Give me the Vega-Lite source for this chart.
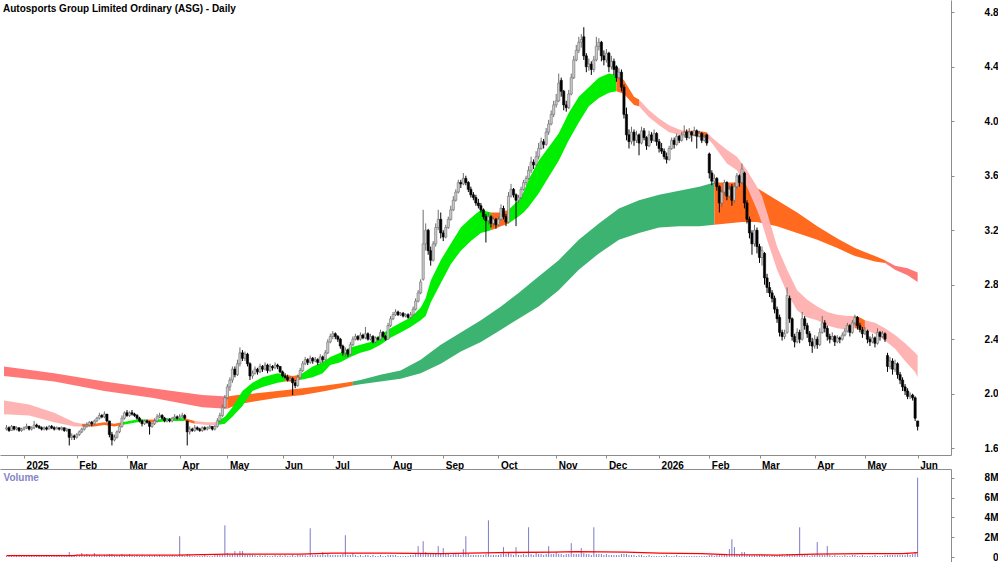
{
"$schema":"https://vega.github.io/schema/vega-lite/v6.json",
"padding":0,
"width":951,"height":562,
"title":{"text":"Autosports Group Limited Ordinary (ASG) - Daily","anchor":"start","offset":-14,"fontSize":10,"fontWeight":"bold","font":"Liberation Sans","color":"#000","dx":3},
"config":{"view":{"stroke":null},"font":"Liberation Sans","axis":{"grid":false,"labelFont":"Liberation Sans","labelFontWeight":"bold","labelFontSize":10,"labelColor":"#000","domainColor":"#8c8c8c","tickColor":"#8c8c8c"}},
"datasets":{
"px":[
{"i":-7,"o":1.74,"h":1.77,"l":1.73,"c":1.75,"v":0.1},{"i":-6,"o":1.75,"h":1.76,"l":1.72,"c":1.73,"v":0.1},{"i":-5,"o":1.73,"h":1.77,"l":1.73,"c":1.76,"v":0.2},{"i":-4,"o":1.76,"h":1.76,"l":1.73,"c":1.74,"v":0.1},{"i":-3,"o":1.74,"h":1.76,"l":1.73,"c":1.75,"v":0.1},{"i":-2,"o":1.75,"h":1.75,"l":1.72,"c":1.73,"v":0.1},{"i":-1,"o":1.73,"h":1.75,"l":1.72,"c":1.74,"v":0.1},
{"i":0,"o":1.74,"h":1.76,"l":1.73,"c":1.75,"v":0.2},{"i":1,"o":1.75,"h":1.78,"l":1.74,"c":1.76,"v":0.1},{"i":2,"o":1.76,"h":1.76,"l":1.73,"c":1.74,"v":0.1},{"i":3,"o":1.74,"h":1.76,"l":1.73,"c":1.75,"v":0.2},{"i":4,"o":1.75,"h":1.80,"l":1.74,"c":1.77,"v":0.2},{"i":5,"o":1.77,"h":1.78,"l":1.75,"c":1.76,"v":0.1},{"i":6,"o":1.76,"h":1.77,"l":1.74,"c":1.75,"v":0.1},{"i":7,"o":1.75,"h":1.76,"l":1.73,"c":1.74,"v":0.1},{"i":8,"o":1.74,"h":1.76,"l":1.73,"c":1.75,"v":0.1},{"i":9,"o":1.75,"h":1.76,"l":1.73,"c":1.74,"v":0.2},
{"i":10,"o":1.74,"h":1.77,"l":1.74,"c":1.76,"v":0.1},{"i":11,"o":1.76,"h":1.77,"l":1.74,"c":1.75,"v":0.1},{"i":12,"o":1.75,"h":1.76,"l":1.73,"c":1.74,"v":0.1},{"i":13,"o":1.74,"h":1.76,"l":1.74,"c":1.75,"v":0.2},{"i":14,"o":1.75,"h":1.75,"l":1.73,"c":1.74,"v":0.1},{"i":15,"o":1.74,"h":1.76,"l":1.73,"c":1.75,"v":0.1},{"i":16,"o":1.75,"h":1.75,"l":1.72,"c":1.73,"v":0.1},{"i":17,"o":1.73,"h":1.75,"l":1.72,"c":1.74,"v":0.1},{"i":18,"o":1.74,"h":1.74,"l":1.62,"c":1.68,"v":0.5},{"i":19,"o":1.68,"h":1.71,"l":1.66,"c":1.69,"v":0.2},
{"i":20,"o":1.69,"h":1.70,"l":1.66,"c":1.68,"v":0.1},{"i":21,"o":1.68,"h":1.71,"l":1.67,"c":1.70,"v":0.2},{"i":22,"o":1.70,"h":1.73,"l":1.69,"c":1.72,"v":0.2},{"i":23,"o":1.72,"h":1.75,"l":1.71,"c":1.74,"v":0.4},{"i":24,"o":1.74,"h":1.77,"l":1.73,"c":1.76,"v":0.2},{"i":25,"o":1.76,"h":1.79,"l":1.75,"c":1.77,"v":0.3},{"i":26,"o":1.77,"h":1.80,"l":1.76,"c":1.79,"v":0.2},{"i":27,"o":1.79,"h":1.80,"l":1.76,"c":1.78,"v":0.1},{"i":28,"o":1.78,"h":1.81,"l":1.77,"c":1.80,"v":0.4},{"i":29,"o":1.80,"h":1.83,"l":1.79,"c":1.82,"v":0.2},
{"i":30,"o":1.82,"h":1.86,"l":1.81,"c":1.84,"v":0.2},{"i":31,"o":1.84,"h":1.85,"l":1.82,"c":1.83,"v":0.1},{"i":32,"o":1.83,"h":1.87,"l":1.82,"c":1.85,"v":0.2},{"i":33,"o":1.85,"h":1.85,"l":1.79,"c":1.80,"v":0.2},{"i":34,"o":1.80,"h":1.80,"l":1.68,"c":1.70,"v":0.3},{"i":35,"o":1.70,"h":1.72,"l":1.62,"c":1.66,"v":0.3},{"i":36,"o":1.66,"h":1.70,"l":1.65,"c":1.68,"v":0.2},{"i":37,"o":1.68,"h":1.73,"l":1.67,"c":1.72,"v":0.2},{"i":38,"o":1.72,"h":1.77,"l":1.71,"c":1.76,"v":0.2},{"i":39,"o":1.76,"h":1.84,"l":1.75,"c":1.82,"v":0.3},
{"i":40,"o":1.82,"h":1.87,"l":1.81,"c":1.86,"v":0.2},{"i":41,"o":1.86,"h":1.88,"l":1.83,"c":1.84,"v":0.2},{"i":42,"o":1.84,"h":1.87,"l":1.83,"c":1.86,"v":0.3},{"i":43,"o":1.86,"h":1.88,"l":1.84,"c":1.85,"v":0.2},{"i":44,"o":1.85,"h":1.86,"l":1.83,"c":1.84,"v":0.1},{"i":45,"o":1.84,"h":1.85,"l":1.81,"c":1.82,"v":0.2},{"i":46,"o":1.82,"h":1.83,"l":1.79,"c":1.80,"v":0.1},{"i":47,"o":1.80,"h":1.81,"l":1.76,"c":1.78,"v":0.2},{"i":48,"o":1.78,"h":1.81,"l":1.77,"c":1.80,"v":0.1},{"i":49,"o":1.80,"h":1.81,"l":1.78,"c":1.79,"v":0.1},
{"i":50,"o":1.79,"h":1.80,"l":1.70,"c":1.76,"v":0.2},{"i":51,"o":1.76,"h":1.79,"l":1.75,"c":1.78,"v":0.1},{"i":52,"o":1.78,"h":1.82,"l":1.77,"c":1.80,"v":0.2},{"i":53,"o":1.80,"h":1.85,"l":1.79,"c":1.83,"v":0.1},{"i":54,"o":1.83,"h":1.86,"l":1.82,"c":1.84,"v":0.2},{"i":55,"o":1.84,"h":1.85,"l":1.81,"c":1.82,"v":0.1},{"i":56,"o":1.82,"h":1.83,"l":1.79,"c":1.80,"v":0.1},{"i":57,"o":1.80,"h":1.82,"l":1.79,"c":1.81,"v":0.1},{"i":58,"o":1.81,"h":1.82,"l":1.79,"c":1.80,"v":0.1},{"i":59,"o":1.80,"h":1.83,"l":1.79,"c":1.82,"v":0.2},
{"i":60,"o":1.82,"h":1.85,"l":1.81,"c":1.83,"v":0.1},{"i":61,"o":1.83,"h":1.84,"l":1.81,"c":1.82,"v":0.1},{"i":62,"o":1.82,"h":1.85,"l":1.81,"c":1.83,"v":2.1},{"i":63,"o":1.83,"h":1.86,"l":1.82,"c":1.84,"v":0.2},{"i":64,"o":1.84,"h":1.85,"l":1.81,"c":1.82,"v":0.1},{"i":65,"o":1.80,"h":1.80,"l":1.62,"c":1.72,"v":0.3},{"i":66,"o":1.72,"h":1.76,"l":1.70,"c":1.74,"v":0.2},{"i":67,"o":1.74,"h":1.75,"l":1.72,"c":1.73,"v":0.1},{"i":68,"o":1.73,"h":1.77,"l":1.72,"c":1.75,"v":0.1},{"i":69,"o":1.75,"h":1.76,"l":1.73,"c":1.74,"v":0.1},
{"i":70,"o":1.74,"h":1.75,"l":1.72,"c":1.73,"v":0.1},{"i":71,"o":1.73,"h":1.76,"l":1.72,"c":1.75,"v":0.1},{"i":72,"o":1.75,"h":1.76,"l":1.73,"c":1.74,"v":0.2},{"i":73,"o":1.74,"h":1.76,"l":1.73,"c":1.75,"v":0.1},{"i":74,"o":1.75,"h":1.77,"l":1.74,"c":1.76,"v":0.1},{"i":75,"o":1.76,"h":1.76,"l":1.73,"c":1.74,"v":0.1},{"i":76,"o":1.74,"h":1.77,"l":1.73,"c":1.76,"v":0.2},{"i":77,"o":1.76,"h":1.82,"l":1.75,"c":1.80,"v":0.2},{"i":78,"o":1.80,"h":1.86,"l":1.79,"c":1.84,"v":0.3},{"i":79,"o":1.84,"h":1.92,"l":1.83,"c":1.90,"v":0.3},
{"i":80,"o":1.90,"h":1.99,"l":1.89,"c":1.97,"v":3.2},{"i":81,"o":1.97,"h":2.07,"l":1.96,"c":2.05,"v":0.4},{"i":82,"o":2.05,"h":2.12,"l":2.02,"c":2.10,"v":0.3},{"i":83,"o":2.10,"h":2.20,"l":2.08,"c":2.18,"v":0.3},{"i":84,"o":2.18,"h":2.20,"l":2.12,"c":2.14,"v":0.6},{"i":85,"o":2.14,"h":2.25,"l":2.13,"c":2.22,"v":0.3},{"i":86,"o":2.22,"h":2.34,"l":2.20,"c":2.30,"v":0.6},{"i":87,"o":2.30,"h":2.32,"l":2.24,"c":2.26,"v":0.6},{"i":88,"o":2.26,"h":2.31,"l":2.24,"c":2.29,"v":0.3},{"i":89,"o":2.29,"h":2.30,"l":2.20,"c":2.22,"v":0.2},
{"i":90,"o":2.22,"h":2.23,"l":2.10,"c":2.13,"v":0.3},{"i":91,"o":2.13,"h":2.17,"l":2.11,"c":2.15,"v":0.2},{"i":92,"o":2.15,"h":2.20,"l":2.14,"c":2.18,"v":0.2},{"i":93,"o":2.18,"h":2.19,"l":2.14,"c":2.16,"v":0.1},{"i":94,"o":2.16,"h":2.22,"l":2.15,"c":2.20,"v":0.2},{"i":95,"o":2.20,"h":2.21,"l":2.16,"c":2.18,"v":0.1},{"i":96,"o":2.18,"h":2.23,"l":2.17,"c":2.21,"v":0.2},{"i":97,"o":2.21,"h":2.22,"l":2.15,"c":2.17,"v":0.1},{"i":98,"o":2.17,"h":2.22,"l":2.16,"c":2.20,"v":0.1},{"i":99,"o":2.20,"h":2.21,"l":2.17,"c":2.19,"v":0.1},
{"i":100,"o":2.19,"h":2.23,"l":2.18,"c":2.21,"v":0.2},{"i":101,"o":2.21,"h":2.22,"l":2.18,"c":2.20,"v":0.1},{"i":102,"o":2.20,"h":2.20,"l":2.15,"c":2.16,"v":0.2},{"i":103,"o":2.16,"h":2.17,"l":2.12,"c":2.13,"v":0.1},{"i":104,"o":2.13,"h":2.15,"l":2.11,"c":2.12,"v":0.2},{"i":105,"o":2.12,"h":2.14,"l":2.09,"c":2.10,"v":0.1},{"i":106,"o":2.10,"h":2.13,"l":2.09,"c":2.11,"v":0.1},{"i":107,"o":2.11,"h":2.12,"l":1.99,"c":2.08,"v":0.2},{"i":108,"o":2.08,"h":2.10,"l":2.04,"c":2.06,"v":0.1},{"i":109,"o":2.06,"h":2.14,"l":2.05,"c":2.12,"v":0.2},
{"i":110,"o":2.12,"h":2.19,"l":2.11,"c":2.17,"v":0.2},{"i":111,"o":2.17,"h":2.24,"l":2.16,"c":2.22,"v":0.2},{"i":112,"o":2.22,"h":2.27,"l":2.21,"c":2.25,"v":0.2},{"i":113,"o":2.25,"h":2.26,"l":2.21,"c":2.23,"v":0.1},{"i":114,"o":2.23,"h":2.28,"l":2.22,"c":2.26,"v":2.9},{"i":115,"o":2.26,"h":2.27,"l":2.22,"c":2.24,"v":0.2},{"i":116,"o":2.24,"h":2.27,"l":2.23,"c":2.25,"v":0.2},{"i":117,"o":2.25,"h":2.26,"l":2.21,"c":2.23,"v":0.2},{"i":118,"o":2.23,"h":2.29,"l":2.22,"c":2.27,"v":0.2},{"i":119,"o":2.27,"h":2.28,"l":2.23,"c":2.25,"v":0.5},
{"i":120,"o":2.25,"h":2.32,"l":2.24,"c":2.30,"v":0.2},{"i":121,"o":2.30,"h":2.40,"l":2.29,"c":2.38,"v":0.3},{"i":122,"o":2.38,"h":2.44,"l":2.37,"c":2.42,"v":0.2},{"i":123,"o":2.42,"h":2.46,"l":2.40,"c":2.44,"v":0.2},{"i":124,"o":2.44,"h":2.45,"l":2.40,"c":2.42,"v":0.2},{"i":125,"o":2.42,"h":2.43,"l":2.38,"c":2.40,"v":0.2},{"i":126,"o":2.40,"h":2.41,"l":2.33,"c":2.35,"v":0.2},{"i":127,"o":2.35,"h":2.36,"l":2.28,"c":2.30,"v":0.3},{"i":128,"o":2.30,"h":2.34,"l":2.27,"c":2.32,"v":2.2},{"i":129,"o":2.32,"h":2.33,"l":2.27,"c":2.29,"v":0.2},
{"i":130,"o":2.29,"h":2.38,"l":2.28,"c":2.36,"v":0.2},{"i":131,"o":2.36,"h":2.42,"l":2.35,"c":2.40,"v":0.4},{"i":132,"o":2.40,"h":2.44,"l":2.39,"c":2.42,"v":0.2},{"i":133,"o":2.42,"h":2.43,"l":2.39,"c":2.40,"v":0.1},{"i":134,"o":2.40,"h":2.45,"l":2.39,"c":2.43,"v":0.2},{"i":135,"o":2.43,"h":2.44,"l":2.40,"c":2.41,"v":0.1},{"i":136,"o":2.41,"h":2.49,"l":2.40,"c":2.44,"v":0.2},{"i":137,"o":2.44,"h":2.45,"l":2.39,"c":2.40,"v":0.2},{"i":138,"o":2.40,"h":2.44,"l":2.39,"c":2.42,"v":0.1},{"i":139,"o":2.42,"h":2.43,"l":2.37,"c":2.38,"v":0.2},
{"i":140,"o":2.38,"h":2.42,"l":2.37,"c":2.41,"v":0.1},{"i":141,"o":2.41,"h":2.42,"l":2.39,"c":2.40,"v":0.1},{"i":142,"o":2.40,"h":2.47,"l":2.39,"c":2.45,"v":0.2},{"i":143,"o":2.45,"h":2.46,"l":2.41,"c":2.42,"v":0.1},{"i":144,"o":2.42,"h":2.43,"l":2.39,"c":2.40,"v":0.1},{"i":145,"o":2.40,"h":2.52,"l":2.40,"c":2.50,"v":0.2},{"i":146,"o":2.50,"h":2.57,"l":2.49,"c":2.55,"v":0.2},{"i":147,"o":2.55,"h":2.60,"l":2.54,"c":2.58,"v":0.2},{"i":148,"o":2.58,"h":2.62,"l":2.57,"c":2.60,"v":0.2},{"i":149,"o":2.60,"h":2.61,"l":2.57,"c":2.58,"v":0.1},
{"i":150,"o":2.58,"h":2.60,"l":2.57,"c":2.59,"v":0.1},{"i":151,"o":2.59,"h":2.60,"l":2.56,"c":2.57,"v":0.1},{"i":152,"o":2.57,"h":2.59,"l":2.56,"c":2.58,"v":0.1},{"i":153,"o":2.58,"h":2.59,"l":2.55,"c":2.56,"v":0.1},{"i":154,"o":2.56,"h":2.60,"l":2.55,"c":2.58,"v":0.2},{"i":155,"o":2.58,"h":2.64,"l":2.57,"c":2.62,"v":0.2},{"i":156,"o":2.62,"h":2.70,"l":2.61,"c":2.68,"v":0.3},{"i":157,"o":2.68,"h":2.76,"l":2.67,"c":2.74,"v":1.1},{"i":158,"o":2.74,"h":2.84,"l":2.73,"c":2.82,"v":0.4},{"i":159,"o":2.84,"h":3.35,"l":2.83,"c":3.10,"v":1.6},
{"i":160,"o":3.10,"h":3.25,"l":3.05,"c":3.20,"v":0.5},{"i":161,"o":3.20,"h":3.21,"l":3.02,"c":3.05,"v":0.4},{"i":162,"o":3.05,"h":3.08,"l":2.94,"c":2.98,"v":0.3},{"i":163,"o":2.98,"h":3.12,"l":2.97,"c":3.10,"v":0.3},{"i":164,"o":3.10,"h":3.25,"l":3.08,"c":3.22,"v":0.4},{"i":165,"o":3.22,"h":3.35,"l":3.20,"c":3.28,"v":1.1},{"i":166,"o":3.28,"h":3.33,"l":3.14,"c":3.18,"v":0.4},{"i":167,"o":3.18,"h":3.20,"l":3.12,"c":3.15,"v":0.9},{"i":168,"o":3.15,"h":3.24,"l":3.14,"c":3.22,"v":0.3},{"i":169,"o":3.22,"h":3.30,"l":3.21,"c":3.28,"v":0.3},
{"i":170,"o":3.28,"h":3.38,"l":3.27,"c":3.35,"v":0.2},{"i":171,"o":3.35,"h":3.45,"l":3.34,"c":3.42,"v":0.3},{"i":172,"o":3.42,"h":3.50,"l":3.41,"c":3.48,"v":0.3},{"i":173,"o":3.48,"h":3.57,"l":3.47,"c":3.55,"v":0.3},{"i":174,"o":3.55,"h":3.57,"l":3.51,"c":3.54,"v":0.2},{"i":175,"o":3.54,"h":3.62,"l":3.53,"c":3.58,"v":0.8},{"i":176,"o":3.58,"h":3.60,"l":3.53,"c":3.55,"v":2.1},{"i":177,"o":3.55,"h":3.56,"l":3.48,"c":3.50,"v":0.3},{"i":178,"o":3.50,"h":3.52,"l":3.44,"c":3.46,"v":0.2},{"i":179,"o":3.46,"h":3.48,"l":3.42,"c":3.44,"v":0.2},
{"i":180,"o":3.44,"h":3.46,"l":3.38,"c":3.40,"v":0.2},{"i":181,"o":3.40,"h":3.43,"l":3.36,"c":3.38,"v":0.2},{"i":182,"o":3.38,"h":3.40,"l":3.33,"c":3.35,"v":0.2},{"i":183,"o":3.35,"h":3.36,"l":3.28,"c":3.30,"v":0.2},{"i":184,"o":3.30,"h":3.32,"l":3.11,"c":3.27,"v":0.3},{"i":185,"o":3.27,"h":3.33,"l":3.24,"c":3.30,"v":3.7},{"i":186,"o":3.30,"h":3.31,"l":3.22,"c":3.25,"v":0.2},{"i":187,"o":3.25,"h":3.30,"l":3.23,"c":3.28,"v":0.2},{"i":188,"o":3.28,"h":3.29,"l":3.21,"c":3.24,"v":0.2},{"i":189,"o":3.24,"h":3.30,"l":3.23,"c":3.28,"v":0.2},
{"i":190,"o":3.28,"h":3.39,"l":3.27,"c":3.36,"v":0.3},{"i":191,"o":3.36,"h":3.38,"l":3.28,"c":3.30,"v":1.0},{"i":192,"o":3.30,"h":3.32,"l":3.23,"c":3.26,"v":0.3},{"i":193,"o":3.26,"h":3.48,"l":3.25,"c":3.45,"v":0.4},{"i":194,"o":3.45,"h":3.54,"l":3.44,"c":3.50,"v":0.3},{"i":195,"o":3.50,"h":3.51,"l":3.44,"c":3.46,"v":0.2},{"i":196,"o":3.46,"h":3.47,"l":3.23,"c":3.42,"v":1.0},{"i":197,"o":3.42,"h":3.46,"l":3.40,"c":3.44,"v":0.2},{"i":198,"o":3.44,"h":3.52,"l":3.43,"c":3.50,"v":0.2},{"i":199,"o":3.50,"h":3.57,"l":3.49,"c":3.55,"v":0.3},
{"i":200,"o":3.55,"h":3.60,"l":3.53,"c":3.58,"v":0.2},{"i":201,"o":3.58,"h":3.67,"l":3.57,"c":3.64,"v":3.0},{"i":202,"o":3.64,"h":3.74,"l":3.62,"c":3.70,"v":0.3},{"i":203,"o":3.70,"h":3.72,"l":3.65,"c":3.68,"v":0.2},{"i":204,"o":3.68,"h":3.78,"l":3.67,"c":3.74,"v":0.5},{"i":205,"o":3.74,"h":3.84,"l":3.72,"c":3.80,"v":0.3},{"i":206,"o":3.80,"h":3.88,"l":3.79,"c":3.85,"v":0.3},{"i":207,"o":3.85,"h":3.87,"l":3.80,"c":3.83,"v":0.2},{"i":208,"o":3.83,"h":3.95,"l":3.82,"c":3.92,"v":0.3},{"i":209,"o":3.92,"h":4.01,"l":3.90,"c":3.98,"v":1.1},
{"i":210,"o":3.98,"h":4.08,"l":3.97,"c":4.05,"v":0.3},{"i":211,"o":4.05,"h":4.15,"l":4.03,"c":4.12,"v":0.3},{"i":212,"o":4.12,"h":4.20,"l":4.10,"c":4.15,"v":0.5},{"i":213,"o":4.15,"h":4.35,"l":4.14,"c":4.28,"v":0.3},{"i":214,"o":4.30,"h":4.32,"l":4.18,"c":4.22,"v":0.3},{"i":215,"o":4.22,"h":4.23,"l":4.08,"c":4.12,"v":0.2},{"i":216,"o":4.12,"h":4.15,"l":4.07,"c":4.10,"v":0.3},{"i":217,"o":4.10,"h":4.23,"l":4.09,"c":4.20,"v":0.3},{"i":218,"o":4.20,"h":4.35,"l":4.19,"c":4.32,"v":1.4},{"i":219,"o":4.32,"h":4.48,"l":4.31,"c":4.45,"v":0.3},
{"i":220,"o":4.45,"h":4.56,"l":4.44,"c":4.52,"v":0.3},{"i":221,"o":4.52,"h":4.62,"l":4.50,"c":4.58,"v":0.3},{"i":222,"o":4.58,"h":4.64,"l":4.54,"c":4.60,"v":0.9},{"i":223,"o":4.62,"h":4.69,"l":4.45,"c":4.48,"v":0.4},{"i":224,"o":4.48,"h":4.50,"l":4.36,"c":4.40,"v":0.3},{"i":225,"o":4.40,"h":4.46,"l":4.37,"c":4.42,"v":0.3},{"i":226,"o":4.42,"h":4.44,"l":4.34,"c":4.38,"v":0.2},{"i":227,"o":4.38,"h":4.48,"l":4.36,"c":4.45,"v":3.0},{"i":228,"o":4.45,"h":4.62,"l":4.44,"c":4.55,"v":0.3},{"i":229,"o":4.55,"h":4.61,"l":4.52,"c":4.58,"v":0.3},
{"i":230,"o":4.58,"h":4.59,"l":4.44,"c":4.48,"v":0.3},{"i":231,"o":4.48,"h":4.52,"l":4.41,"c":4.45,"v":0.2},{"i":232,"o":4.45,"h":4.53,"l":4.43,"c":4.50,"v":0.3},{"i":233,"o":4.50,"h":4.51,"l":4.36,"c":4.40,"v":0.2},{"i":234,"o":4.40,"h":4.48,"l":4.38,"c":4.44,"v":0.2},{"i":235,"o":4.44,"h":4.46,"l":4.34,"c":4.38,"v":0.2},{"i":236,"o":4.40,"h":4.41,"l":4.29,"c":4.32,"v":0.2},{"i":237,"o":4.32,"h":4.39,"l":4.30,"c":4.36,"v":0.2},{"i":238,"o":4.36,"h":4.38,"l":4.22,"c":4.25,"v":0.3},{"i":239,"o":4.25,"h":4.27,"l":4.02,"c":4.05,"v":0.3},
{"i":240,"o":4.05,"h":4.10,"l":3.86,"c":3.90,"v":0.3},{"i":241,"o":3.90,"h":3.94,"l":3.80,"c":3.85,"v":0.2},{"i":242,"o":3.85,"h":3.96,"l":3.83,"c":3.92,"v":0.2},{"i":243,"o":3.92,"h":3.94,"l":3.82,"c":3.86,"v":0.2},{"i":244,"o":3.86,"h":3.93,"l":3.84,"c":3.90,"v":0.1},{"i":245,"o":3.90,"h":3.91,"l":3.75,"c":3.84,"v":0.2},{"i":246,"o":3.84,"h":3.96,"l":3.83,"c":3.93,"v":0.2},{"i":247,"o":3.93,"h":3.95,"l":3.86,"c":3.88,"v":0.1},{"i":248,"o":3.88,"h":3.89,"l":3.79,"c":3.82,"v":0.1},{"i":249,"o":3.82,"h":3.93,"l":3.81,"c":3.90,"v":0.2},
{"i":250,"o":3.90,"h":3.92,"l":3.84,"c":3.86,"v":0.1},{"i":251,"o":3.86,"h":3.94,"l":3.85,"c":3.91,"v":0.1},{"i":252,"o":3.91,"h":3.92,"l":3.82,"c":3.85,"v":0.1},{"i":253,"o":3.85,"h":3.87,"l":3.77,"c":3.80,"v":0.1},{"i":254,"o":3.80,"h":3.84,"l":3.76,"c":3.78,"v":0.1},{"i":255,"o":3.78,"h":3.80,"l":3.72,"c":3.74,"v":0.1},{"i":256,"o":3.74,"h":3.77,"l":3.69,"c":3.72,"v":0.2},{"i":257,"o":3.72,"h":3.82,"l":3.71,"c":3.80,"v":0.1},{"i":258,"o":3.80,"h":3.88,"l":3.79,"c":3.86,"v":0.1},{"i":259,"o":3.86,"h":3.88,"l":3.80,"c":3.83,"v":0.1},
{"i":260,"o":3.83,"h":3.91,"l":3.82,"c":3.89,"v":0.2},{"i":261,"o":3.89,"h":3.90,"l":3.84,"c":3.86,"v":0.1},{"i":262,"o":3.86,"h":3.92,"l":3.85,"c":3.90,"v":0.1},{"i":263,"o":3.90,"h":3.97,"l":3.88,"c":3.92,"v":0.1},{"i":264,"o":3.92,"h":3.94,"l":3.86,"c":3.88,"v":0.1},{"i":265,"o":3.88,"h":3.95,"l":3.87,"c":3.92,"v":0.1},{"i":266,"o":3.92,"h":3.93,"l":3.85,"c":3.90,"v":0.1},{"i":267,"o":3.90,"h":3.96,"l":3.89,"c":3.93,"v":0.1},{"i":268,"o":3.93,"h":3.94,"l":3.80,"c":3.89,"v":0.1},{"i":269,"o":3.89,"h":3.93,"l":3.88,"c":3.91,"v":0.1},
{"i":270,"o":3.91,"h":3.92,"l":3.84,"c":3.86,"v":0.1},{"i":271,"o":3.86,"h":3.90,"l":3.85,"c":3.88,"v":0.1},{"i":272,"o":3.90,"h":3.91,"l":3.82,"c":3.84,"v":0.1},{"i":273,"o":3.76,"h":3.77,"l":3.58,"c":3.62,"v":0.2},{"i":274,"o":3.62,"h":3.64,"l":3.53,"c":3.56,"v":0.2},{"i":275,"o":3.56,"h":3.61,"l":3.54,"c":3.58,"v":0.1},{"i":276,"o":3.58,"h":3.59,"l":3.49,"c":3.52,"v":0.2},{"i":277,"o":3.52,"h":3.53,"l":3.33,"c":3.40,"v":0.2},{"i":278,"o":3.40,"h":3.50,"l":3.37,"c":3.48,"v":0.2},{"i":279,"o":3.48,"h":3.57,"l":3.46,"c":3.55,"v":0.2},
{"i":280,"o":3.55,"h":3.56,"l":3.42,"c":3.45,"v":0.2},{"i":281,"o":3.45,"h":3.53,"l":3.44,"c":3.50,"v":0.8},{"i":282,"o":3.52,"h":3.54,"l":3.38,"c":3.42,"v":1.8},{"i":283,"o":3.42,"h":3.55,"l":3.40,"c":3.52,"v":1.0},{"i":284,"o":3.52,"h":3.62,"l":3.50,"c":3.60,"v":0.3},{"i":285,"o":3.60,"h":3.61,"l":3.52,"c":3.55,"v":0.2},{"i":286,"o":3.55,"h":3.69,"l":3.54,"c":3.65,"v":0.5},{"i":287,"o":3.62,"h":3.63,"l":3.36,"c":3.40,"v":0.5},{"i":288,"o":3.40,"h":3.42,"l":3.25,"c":3.28,"v":0.2},{"i":289,"o":3.28,"h":3.30,"l":3.14,"c":3.18,"v":0.2},
{"i":290,"o":3.18,"h":3.20,"l":3.02,"c":3.10,"v":0.2},{"i":291,"o":3.10,"h":3.24,"l":3.08,"c":3.20,"v":0.2},{"i":292,"o":3.20,"h":3.22,"l":3.03,"c":3.08,"v":0.2},{"i":293,"o":3.08,"h":3.10,"l":2.96,"c":3.00,"v":0.2},{"i":294,"o":3.00,"h":3.08,"l":2.94,"c":3.05,"v":0.2},{"i":295,"o":3.03,"h":3.04,"l":2.80,"c":2.85,"v":0.2},{"i":296,"o":2.85,"h":2.88,"l":2.74,"c":2.78,"v":0.2},{"i":297,"o":2.78,"h":2.82,"l":2.71,"c":2.74,"v":0.1},{"i":298,"o":2.74,"h":2.76,"l":2.67,"c":2.70,"v":0.2},{"i":299,"o":2.70,"h":2.72,"l":2.59,"c":2.62,"v":0.2},
{"i":300,"o":2.62,"h":2.64,"l":2.52,"c":2.55,"v":0.2},{"i":301,"o":2.56,"h":2.58,"l":2.42,"c":2.45,"v":0.2},{"i":302,"o":2.45,"h":2.47,"l":2.39,"c":2.42,"v":0.2},{"i":303,"o":2.42,"h":2.47,"l":2.40,"c":2.44,"v":0.1},{"i":304,"o":2.45,"h":2.78,"l":2.44,"c":2.72,"v":0.3},{"i":305,"o":2.70,"h":2.72,"l":2.52,"c":2.55,"v":0.2},{"i":306,"o":2.55,"h":2.56,"l":2.39,"c":2.42,"v":0.2},{"i":307,"o":2.42,"h":2.44,"l":2.34,"c":2.38,"v":0.2},{"i":308,"o":2.38,"h":2.48,"l":2.37,"c":2.45,"v":0.2},{"i":309,"o":2.45,"h":2.47,"l":2.37,"c":2.40,"v":3.0},
{"i":310,"o":2.40,"h":2.60,"l":2.39,"c":2.55,"v":0.2},{"i":311,"o":2.55,"h":2.57,"l":2.47,"c":2.50,"v":0.2},{"i":312,"o":2.50,"h":2.52,"l":2.41,"c":2.44,"v":0.2},{"i":313,"o":2.44,"h":2.46,"l":2.35,"c":2.38,"v":0.1},{"i":314,"o":2.38,"h":2.41,"l":2.30,"c":2.35,"v":0.2},{"i":315,"o":2.35,"h":2.43,"l":2.33,"c":2.40,"v":0.2},{"i":316,"o":2.40,"h":2.42,"l":2.33,"c":2.36,"v":1.5},{"i":317,"o":2.36,"h":2.48,"l":2.35,"c":2.45,"v":0.2},{"i":318,"o":2.45,"h":2.57,"l":2.44,"c":2.52,"v":0.2},{"i":319,"o":2.52,"h":2.54,"l":2.45,"c":2.48,"v":0.2},
{"i":320,"o":2.48,"h":2.50,"l":2.39,"c":2.42,"v":1.1},{"i":321,"o":2.42,"h":2.44,"l":2.37,"c":2.40,"v":0.2},{"i":322,"o":2.40,"h":2.45,"l":2.39,"c":2.42,"v":0.1},{"i":323,"o":2.42,"h":2.43,"l":2.35,"c":2.38,"v":0.2},{"i":324,"o":2.38,"h":2.43,"l":2.37,"c":2.41,"v":0.1},{"i":325,"o":2.41,"h":2.42,"l":2.37,"c":2.40,"v":0.1},{"i":326,"o":2.40,"h":2.45,"l":2.39,"c":2.43,"v":0.1},{"i":327,"o":2.43,"h":2.48,"l":2.42,"c":2.46,"v":0.2},{"i":328,"o":2.46,"h":2.52,"l":2.45,"c":2.50,"v":0.1},{"i":329,"o":2.50,"h":2.51,"l":2.42,"c":2.45,"v":0.1},
{"i":330,"o":2.45,"h":2.54,"l":2.44,"c":2.52,"v":0.2},{"i":331,"o":2.52,"h":2.58,"l":2.50,"c":2.56,"v":0.2},{"i":332,"o":2.56,"h":2.57,"l":2.47,"c":2.50,"v":0.1},{"i":333,"o":2.50,"h":2.52,"l":2.45,"c":2.47,"v":0.1},{"i":334,"o":2.47,"h":2.49,"l":2.41,"c":2.44,"v":0.2},{"i":335,"o":2.44,"h":2.49,"l":2.43,"c":2.46,"v":0.1},{"i":336,"o":2.46,"h":2.47,"l":2.37,"c":2.40,"v":0.1},{"i":337,"o":2.40,"h":2.42,"l":2.35,"c":2.38,"v":0.1},{"i":338,"o":2.38,"h":2.44,"l":2.37,"c":2.41,"v":0.1},{"i":339,"o":2.41,"h":2.42,"l":2.34,"c":2.37,"v":0.2},
{"i":340,"o":2.37,"h":2.48,"l":2.36,"c":2.45,"v":0.1},{"i":341,"o":2.45,"h":2.46,"l":2.39,"c":2.42,"v":0.1},{"i":342,"o":2.42,"h":2.46,"l":2.41,"c":2.44,"v":0.1},{"i":343,"o":2.44,"h":2.45,"l":2.38,"c":2.40,"v":0.2},{"i":344,"o":2.28,"h":2.30,"l":2.16,"c":2.20,"v":0.2},{"i":345,"o":2.20,"h":2.27,"l":2.18,"c":2.24,"v":0.2},{"i":346,"o":2.24,"h":2.26,"l":2.14,"c":2.18,"v":0.2},{"i":347,"o":2.18,"h":2.25,"l":2.16,"c":2.22,"v":0.2},{"i":348,"o":2.22,"h":2.23,"l":2.11,"c":2.14,"v":0.2},{"i":349,"o":2.14,"h":2.16,"l":2.07,"c":2.10,"v":0.2},
{"i":350,"o":2.10,"h":2.12,"l":2.02,"c":2.05,"v":0.2},{"i":351,"o":2.05,"h":2.07,"l":1.99,"c":2.02,"v":0.2},{"i":352,"o":2.02,"h":2.04,"l":1.96,"c":1.98,"v":0.4},{"i":353,"o":1.98,"h":2.01,"l":1.96,"c":1.99,"v":0.2},{"i":354,"o":1.99,"h":2.00,"l":1.95,"c":1.97,"v":0.3},{"i":355,"o":1.97,"h":1.98,"l":1.80,"c":1.82,"v":0.5},{"i":356,"o":1.80,"h":1.80,"l":1.73,"c":1.76,"v":8.0}
],
"bd":[
{"b":"l","g":1,"k":"lr","i":-8,"hi":2.20,"lo":2.13},{"b":"l","g":1,"k":"lr","i":12,"hi":2.15,"lo":2.09},{"b":"l","g":1,"k":"lr","i":32,"hi":2.09,"lo":2.02},{"b":"l","g":1,"k":"lr","i":51,"hi":2.04,"lo":1.97},{"b":"l","g":1,"k":"lr","i":71,"hi":1.99,"lo":1.90},{"b":"l","g":1,"k":"lr","i":81,"hi":1.98,"lo":1.89},
{"b":"l","g":2,"k":"lo","i":81,"hi":1.98,"lo":1.89},{"b":"l","g":2,"k":"lo","i":85,"hi":1.99,"lo":1.92},{"b":"l","g":2,"k":"lo","i":91,"hi":2.00,"lo":1.94},{"b":"l","g":2,"k":"lo","i":101,"hi":2.02,"lo":1.97},{"b":"l","g":2,"k":"lo","i":111,"hi":2.04,"lo":1.99},{"b":"l","g":2,"k":"lo","i":120,"hi":2.06,"lo":2.02},{"b":"l","g":2,"k":"lo","i":128,"hi":2.08,"lo":2.05},{"b":"l","g":2,"k":"lo","i":131,"hi":2.09,"lo":2.06},
{"b":"l","g":3,"k":"lg","i":131,"hi":2.09,"lo":2.06},{"b":"l","g":3,"k":"lg","i":134,"hi":2.10,"lo":2.07},{"b":"l","g":3,"k":"lg","i":142,"hi":2.14,"lo":2.09},{"b":"l","g":3,"k":"lg","i":150,"hi":2.17,"lo":2.11},{"b":"l","g":3,"k":"lg","i":158,"hi":2.25,"lo":2.15},{"b":"l","g":3,"k":"lg","i":166,"hi":2.36,"lo":2.22},{"b":"l","g":3,"k":"lg","i":174,"hi":2.45,"lo":2.31},{"b":"l","g":3,"k":"lg","i":182,"hi":2.54,"lo":2.38},{"b":"l","g":3,"k":"lg","i":190,"hi":2.64,"lo":2.47},{"b":"l","g":3,"k":"lg","i":197,"hi":2.74,"lo":2.55},{"b":"l","g":3,"k":"lg","i":205,"hi":2.86,"lo":2.64},{"b":"l","g":3,"k":"lg","i":213,"hi":2.98,"lo":2.76},{"b":"l","g":3,"k":"lg","i":221,"hi":3.13,"lo":2.91},{"b":"l","g":3,"k":"lg","i":229,"hi":3.25,"lo":3.03},{"b":"l","g":3,"k":"lg","i":237,"hi":3.36,"lo":3.13},{"b":"l","g":3,"k":"lg","i":245,"hi":3.42,"lo":3.18},{"b":"l","g":3,"k":"lg","i":253,"hi":3.46,"lo":3.22},{"b":"l","g":3,"k":"lg","i":261,"hi":3.49,"lo":3.23},{"b":"l","g":3,"k":"lg","i":269,"hi":3.52,"lo":3.23},{"b":"l","g":3,"k":"lg","i":275,"hi":3.55,"lo":3.24},
{"b":"l","g":4,"k":"lo","i":275,"hi":3.55,"lo":3.24},{"b":"l","g":4,"k":"lo","i":286,"hi":3.55,"lo":3.26},{"b":"l","g":4,"k":"lo","i":292,"hi":3.51,"lo":3.26},{"b":"l","g":4,"k":"lo","i":300,"hi":3.42,"lo":3.23},{"b":"l","g":4,"k":"lo","i":308,"hi":3.33,"lo":3.18},{"b":"l","g":4,"k":"lo","i":316,"hi":3.23,"lo":3.13},{"b":"l","g":4,"k":"lo","i":324,"hi":3.14,"lo":3.07},{"b":"l","g":4,"k":"lo","i":331,"hi":3.07,"lo":3.01},{"b":"l","g":4,"k":"lo","i":339,"hi":3.01,"lo":2.97},{"b":"l","g":4,"k":"lo","i":343,"hi":2.98,"lo":2.96},
{"b":"l","g":5,"k":"lr","i":343,"hi":2.98,"lo":2.96},{"b":"l","g":5,"k":"lr","i":347,"hi":2.94,"lo":2.91},{"b":"l","g":5,"k":"lr","i":352,"hi":2.92,"lo":2.87},{"b":"l","g":5,"k":"lr","i":356,"hi":2.89,"lo":2.82},
{"b":"s","g":11,"k":"sp","i":-8,"hi":1.95,"lo":1.85},{"b":"s","g":11,"k":"sp","i":2,"hi":1.92,"lo":1.84},{"b":"s","g":11,"k":"sp","i":12,"hi":1.86,"lo":1.79},{"b":"s","g":11,"k":"sp","i":20,"hi":1.79,"lo":1.76},{"b":"s","g":11,"k":"sp","i":23,"hi":1.78,"lo":1.76},
{"b":"s","g":12,"k":"so","i":23,"hi":1.78,"lo":1.76},{"b":"s","g":12,"k":"so","i":28,"hi":1.78,"lo":1.76},{"b":"s","g":12,"k":"so","i":32,"hi":1.79,"lo":1.77},{"b":"s","g":12,"k":"so","i":36,"hi":1.78,"lo":1.76},{"b":"s","g":12,"k":"so","i":39,"hi":1.79,"lo":1.77},
{"b":"s","g":13,"k":"sg","i":39,"hi":1.79,"lo":1.77},{"b":"s","g":13,"k":"sg","i":45,"hi":1.81,"lo":1.79},{"b":"s","g":13,"k":"sg","i":49,"hi":1.81,"lo":1.79},
{"b":"s","g":14,"k":"so","i":49,"hi":1.81,"lo":1.79},{"b":"s","g":14,"k":"so","i":53,"hi":1.81,"lo":1.79},
{"b":"s","g":15,"k":"sg","i":53,"hi":1.81,"lo":1.79},{"b":"s","g":15,"k":"sg","i":58,"hi":1.82,"lo":1.80},{"b":"s","g":15,"k":"sg","i":64,"hi":1.82,"lo":1.80},
{"b":"s","g":16,"k":"so","i":64,"hi":1.82,"lo":1.80},{"b":"s","g":16,"k":"so","i":68,"hi":1.80,"lo":1.78},
{"b":"s","g":17,"k":"sp","i":68,"hi":1.80,"lo":1.78},{"b":"s","g":17,"k":"sp","i":73,"hi":1.79,"lo":1.77},{"b":"s","g":17,"k":"sp","i":77,"hi":1.79,"lo":1.77},
{"b":"s","g":18,"k":"sg","i":77,"hi":1.80,"lo":1.77},{"b":"s","g":18,"k":"sg","i":80,"hi":1.83,"lo":1.78},{"b":"s","g":18,"k":"sg","i":83,"hi":1.90,"lo":1.83},{"b":"s","g":18,"k":"sg","i":87,"hi":2.02,"lo":1.91},{"b":"s","g":18,"k":"sg","i":91,"hi":2.08,"lo":2.02},{"b":"s","g":18,"k":"sg","i":95,"hi":2.12,"lo":2.05},{"b":"s","g":18,"k":"sg","i":101,"hi":2.15,"lo":2.08},{"b":"s","g":18,"k":"sg","i":104,"hi":2.14,"lo":2.09},
{"b":"s","g":19,"k":"so","i":104,"hi":2.14,"lo":2.09},{"b":"s","g":19,"k":"so","i":107,"hi":2.13,"lo":2.09},{"b":"s","g":19,"k":"so","i":110,"hi":2.14,"lo":2.10},
{"b":"s","g":20,"k":"sg","i":110,"hi":2.14,"lo":2.10},{"b":"s","g":20,"k":"sg","i":115,"hi":2.20,"lo":2.12},{"b":"s","g":20,"k":"sg","i":119,"hi":2.23,"lo":2.15},{"b":"s","g":20,"k":"sg","i":122,"hi":2.27,"lo":2.21},{"b":"s","g":20,"k":"sg","i":126,"hi":2.30,"lo":2.23},{"b":"s","g":20,"k":"sg","i":130,"hi":2.34,"lo":2.27},{"b":"s","g":20,"k":"sg","i":134,"hi":2.36,"lo":2.30},{"b":"s","g":20,"k":"sg","i":138,"hi":2.38,"lo":2.32},{"b":"s","g":20,"k":"sg","i":142,"hi":2.43,"lo":2.36},{"b":"s","g":20,"k":"sg","i":146,"hi":2.48,"lo":2.41},{"b":"s","g":20,"k":"sg","i":150,"hi":2.52,"lo":2.45},{"b":"s","g":20,"k":"sg","i":154,"hi":2.56,"lo":2.49},{"b":"s","g":20,"k":"sg","i":158,"hi":2.63,"lo":2.54},{"b":"s","g":20,"k":"sg","i":160,"hi":2.70,"lo":2.57},{"b":"s","g":20,"k":"sg","i":162,"hi":2.83,"lo":2.67},{"b":"s","g":20,"k":"sg","i":166,"hi":2.98,"lo":2.81},{"b":"s","g":20,"k":"sg","i":170,"hi":3.10,"lo":2.95},{"b":"s","g":20,"k":"sg","i":174,"hi":3.22,"lo":3.05},{"b":"s","g":20,"k":"sg","i":178,"hi":3.29,"lo":3.12},{"b":"s","g":20,"k":"sg","i":182,"hi":3.35,"lo":3.18},{"b":"s","g":20,"k":"sg","i":186,"hi":3.33,"lo":3.20},
{"b":"s","g":21,"k":"so","i":186,"hi":3.33,"lo":3.20},{"b":"s","g":21,"k":"so","i":190,"hi":3.33,"lo":3.23},{"b":"s","g":21,"k":"so","i":193,"hi":3.35,"lo":3.25},
{"b":"s","g":22,"k":"sg","i":193,"hi":3.35,"lo":3.25},{"b":"s","g":22,"k":"sg","i":197,"hi":3.42,"lo":3.30},{"b":"s","g":22,"k":"sg","i":199,"hi":3.48,"lo":3.33},{"b":"s","g":22,"k":"sg","i":201,"hi":3.57,"lo":3.37},{"b":"s","g":22,"k":"sg","i":205,"hi":3.71,"lo":3.47},{"b":"s","g":22,"k":"sg","i":209,"hi":3.81,"lo":3.59},{"b":"s","g":22,"k":"sg","i":213,"hi":3.91,"lo":3.71},{"b":"s","g":22,"k":"sg","i":217,"hi":4.06,"lo":3.86},{"b":"s","g":22,"k":"sg","i":221,"hi":4.18,"lo":3.99},{"b":"s","g":22,"k":"sg","i":225,"hi":4.25,"lo":4.11},{"b":"s","g":22,"k":"sg","i":229,"hi":4.32,"lo":4.17},{"b":"s","g":22,"k":"sg","i":233,"hi":4.35,"lo":4.21},{"b":"s","g":22,"k":"sg","i":236,"hi":4.34,"lo":4.22},
{"b":"s","g":23,"k":"so","i":236,"hi":4.34,"lo":4.22},{"b":"s","g":23,"k":"so","i":239,"hi":4.30,"lo":4.20},{"b":"s","g":23,"k":"so","i":243,"hi":4.18,"lo":4.12},{"b":"s","g":23,"k":"so","i":245,"hi":4.16,"lo":4.11},
{"b":"s","g":24,"k":"sp","i":245,"hi":4.16,"lo":4.11},{"b":"s","g":24,"k":"sp","i":249,"hi":4.08,"lo":4.03},{"b":"s","g":24,"k":"sp","i":253,"hi":4.02,"lo":3.97},{"b":"s","g":24,"k":"sp","i":257,"hi":3.97,"lo":3.92},{"b":"s","g":24,"k":"sp","i":261,"hi":3.94,"lo":3.90},{"b":"s","g":24,"k":"sp","i":263,"hi":3.93,"lo":3.90},
{"b":"s","g":25,"k":"so","i":263,"hi":3.93,"lo":3.90},{"b":"s","g":25,"k":"so","i":268,"hi":3.93,"lo":3.89},{"b":"s","g":25,"k":"so","i":272,"hi":3.92,"lo":3.88},
{"b":"s","g":26,"k":"sp","i":272,"hi":3.92,"lo":3.88},{"b":"s","g":26,"k":"sp","i":274,"hi":3.88,"lo":3.84},{"b":"s","g":26,"k":"sp","i":276,"hi":3.85,"lo":3.79},{"b":"s","g":26,"k":"sp","i":280,"hi":3.79,"lo":3.69},{"b":"s","g":26,"k":"sp","i":284,"hi":3.74,"lo":3.64},{"b":"s","g":26,"k":"sp","i":288,"hi":3.64,"lo":3.52},{"b":"s","g":26,"k":"sp","i":292,"hi":3.52,"lo":3.35},{"b":"s","g":26,"k":"sp","i":294,"hi":3.45,"lo":3.25},{"b":"s","g":26,"k":"sp","i":296,"hi":3.33,"lo":3.13},{"b":"s","g":26,"k":"sp","i":300,"hi":3.08,"lo":2.91},{"b":"s","g":26,"k":"sp","i":304,"hi":2.91,"lo":2.74},{"b":"s","g":26,"k":"sp","i":308,"hi":2.76,"lo":2.61},{"b":"s","g":26,"k":"sp","i":312,"hi":2.69,"lo":2.56},{"b":"s","g":26,"k":"sp","i":316,"hi":2.64,"lo":2.54},{"b":"s","g":26,"k":"sp","i":320,"hi":2.60,"lo":2.50},{"b":"s","g":26,"k":"sp","i":324,"hi":2.58,"lo":2.48},{"b":"s","g":26,"k":"sp","i":328,"hi":2.57,"lo":2.47},{"b":"s","g":26,"k":"sp","i":331,"hi":2.57,"lo":2.48},
{"b":"s","g":27,"k":"so","i":331,"hi":2.57,"lo":2.48},{"b":"s","g":27,"k":"so","i":333,"hi":2.56,"lo":2.48},{"b":"s","g":27,"k":"so","i":335,"hi":2.54,"lo":2.47},
{"b":"s","g":28,"k":"sp","i":335,"hi":2.54,"lo":2.47},{"b":"s","g":28,"k":"sp","i":339,"hi":2.52,"lo":2.44},{"b":"s","g":28,"k":"sp","i":343,"hi":2.48,"lo":2.39},{"b":"s","g":28,"k":"sp","i":347,"hi":2.43,"lo":2.33},{"b":"s","g":28,"k":"sp","i":351,"hi":2.37,"lo":2.24},{"b":"s","g":28,"k":"sp","i":355,"hi":2.30,"lo":2.16},{"b":"s","g":28,"k":"sp","i":356,"hi":2.28,"lo":2.12}
],
"vm":[
{"i":-7,"m":0.15},{"i":20,"m":0.15},{"i":21,"m":0.2},{"i":40,"m":0.2},{"i":61,"m":0.2},{"i":81,"m":0.3},{"i":102,"m":0.3},{"i":110,"m":0.3},{"i":123,"m":0.4},{"i":145,"m":0.4},{"i":166,"m":0.35},{"i":189,"m":0.45},{"i":211,"m":0.5},{"i":220,"m":0.55},{"i":240,"m":0.5},{"i":253,"m":0.4},{"i":270,"m":0.35},{"i":280,"m":0.25},{"i":300,"m":0.2},{"i":315,"m":0.3},{"i":335,"m":0.35},{"i":350,"m":0.35},{"i":356,"m":0.45}
]
},
"resolve":{"scale":{"y":"independent"},"axis":{"x":"independent","y":"independent"}},
"layer":[
{"layer":[
{"data":{"name":"bd"},"transform":[{"filter":"datum.b=='l'"}],"mark":{"type":"area","clip":true},
"encoding":{
"x":{"field":"i","type":"quantitative","title":null,"scale":{"domain":[-7.6,367.3],"nice":false,"zero":false},
"axis":{"orient":"bottom","offset":-107,"values":[0,21,41,62,81,103,123,146,167,189,212,232,253,273,293,315,335,356],"labelExpr":"['2025','Feb','Mar','Apr','May','Jun','Jul','Aug','Sep','Oct','Nov','Dec','2026','Feb','Mar','Apr','May','Jun'][indexof([0,21,41,62,81,103,123,146,167,189,212,232,253,273,293,315,335,356], datum.value)]","labelAlign":"left","labelBaseline":"top","labelOffset":2,"labelPadding":2,"tickSize":3,"labelOverlap":false,"labelFlush":false,"labelBound":false}},
"y":{"field":"hi","type":"quantitative","title":null,"scale":{"domain":[1.55,4.89],"range":[455,0],"nice":false,"zero":false},
"axis":{"orient":"right","values":[1.6,1.8,2.0,2.2,2.4,2.6,2.8,3.0,3.2,3.4,3.6,3.8,4.0,4.2,4.4,4.6,4.8],"format":".1f","tickSize":3,"labelPadding":44,"labelAlign":"right","labelBaseline":"middle","labelOverlap":false,"labelFlush":false,"labelBound":false}},
"y2":{"field":"lo"},
"color":{"field":"k","type":"nominal","legend":null,"scale":{"domain":["lr","lo","lg","sp","so","sg"],"range":["#FF7878","#FF6A1E","#3CB371","#FFB4B4","#FF6A1E","#00EE00"]}},
"detail":{"field":"g"}}},
{"data":{"name":"bd"},"transform":[{"filter":"datum.b=='s'"}],"mark":{"type":"area","clip":true},
"encoding":{
"x":{"field":"i","type":"quantitative","title":null,"scale":{"domain":[-7.6,367.3],"nice":false,"zero":false}},
"y":{"field":"hi","type":"quantitative","title":null,"scale":{"domain":[1.55,4.89],"range":[455,0],"nice":false,"zero":false}},
"y2":{"field":"lo"},
"color":{"field":"k","type":"nominal","legend":null,"scale":{"domain":["lr","lo","lg","sp","so","sg"],"range":["#FF7878","#FF6A1E","#3CB371","#FFB4B4","#FF6A1E","#00EE00"]}},
"detail":{"field":"g"}}},
{"data":{"name":"px"},"mark":{"type":"rule","strokeWidth":1},
"encoding":{
"x":{"field":"i","type":"quantitative","title":null,"scale":{"domain":[-7.6,367.3],"nice":false,"zero":false}},
"y":{"field":"l","type":"quantitative","title":null,"scale":{"domain":[1.55,4.89],"range":[455,0],"nice":false,"zero":false}},
"y2":{"field":"h"},
"color":{"condition":{"test":"datum.c>=datum.o","value":"#6E6E6E"},"value":"#000000"}}},
{"data":{"name":"px"},"mark":{"type":"bar","size":2.2,"strokeWidth":0.6},
"encoding":{
"x":{"field":"i","type":"quantitative","title":null,"scale":{"domain":[-7.6,367.3],"nice":false,"zero":false}},
"y":{"field":"o","type":"quantitative","title":null,"scale":{"domain":[1.55,4.89],"range":[455,0],"nice":false,"zero":false}},
"y2":{"field":"c"},
"fill":{"condition":{"test":"datum.c>=datum.o","value":"#CDCDCD"},"value":"#000000"},
"stroke":{"condition":{"test":"datum.c>=datum.o","value":"#6E6E6E"},"value":"#000000"}}}
]},
{"layer":[
{"data":{"name":"px"},"mark":{"type":"rule","strokeWidth":1,"color":"#7B7BC8"},
"encoding":{
"x":{"field":"i","type":"quantitative","title":null,"scale":{"domain":[-7.6,367.3],"nice":false,"zero":false},
"axis":{"orient":"top","offset":-469,"labels":false,"ticks":false,"domain":true}},
"y":{"field":"v","type":"quantitative","title":"Volume","scale":{"domain":[-0.5,8.88],"range":[562,469],"nice":false,"zero":false},
"axis":{"orient":"right","values":[0,2,4,6,8],"labelExpr":"datum.value==0?'0':datum.value+'M'","tickSize":3,"labelPadding":44,"labelAlign":"right","labelBaseline":"middle","labelOverlap":false,"labelFlush":false,"labelBound":false,
"titleAngle":0,"titleX":-948,"titleY":472,"titleAlign":"left","titleBaseline":"top","titleFontSize":10,"titleFontWeight":"bold","titleFont":"Liberation Sans","titleColor":"#8585C4"}},
"y2":{"datum":0}}},
{"data":{"name":"vm"},"mark":{"type":"line","color":"#FF0000","strokeWidth":1.3,"clip":true},
"encoding":{
"x":{"field":"i","type":"quantitative","title":null,"scale":{"domain":[-7.6,367.3],"nice":false,"zero":false}},
"y":{"field":"m","type":"quantitative","title":"Volume","scale":{"domain":[-0.5,8.88],"range":[562,469],"nice":false,"zero":false}}}}
]}
]
}
